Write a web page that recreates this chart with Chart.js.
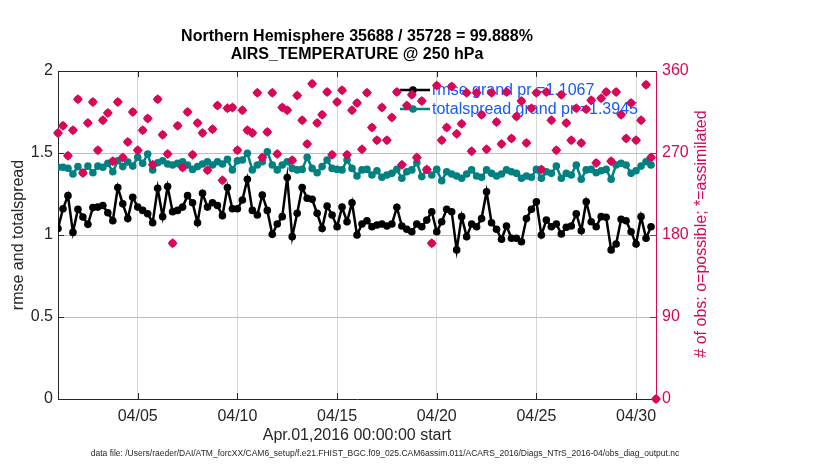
<!DOCTYPE html>
<html><head><meta charset="utf-8">
<script src="https://cdn.jsdelivr.net/npm/chart.js@4.4.0/dist/chart.umd.min.js"></script>
<style>html,body{margin:0;padding:0;background:#fff;overflow:hidden}#wrap{width:830px;height:470px;position:relative}</style>
</head><body><div id="wrap"><canvas id="c" width="830" height="470"></canvas></div>
<script>
const titleLines = ['Northern Hemisphere 35688 / 35728 = 99.888%', 'AIRS_TEMPERATURE @ 250 hPa'];
const xTitle = 'Apr.01,2016 00:00:00 start';
const yLeftTitle = 'rmse and totalspread';
const yRightTitle = '# of obs: o=possible; *=assimilated';
const fileNote = 'data file: /Users/raeder/DAI/ATM_forcXX/CAM6_setup/f.e21.FHIST_BGC.f09_025.CAM6assim.011/ACARS_2016/Diags_NTrS_2016-04/obs_diag_output.nc';
const legendLabels = ['rmse grand pr =1.1067', 'totalspread grand pr =1.3945'];
const tickDays = [4, 9, 14, 19, 24, 29];
const tickLabels = ['04/05', '04/10', '04/15', '04/20', '04/25', '04/30'];
const yGridValues = [0.5, 1, 1.5];
const samplesPerDay = 4;

const rmse = [
1.04,1.16,1.24,1.016,1.157,1.11,1.065,1.167,1.17,1.18,
1.136,1.087,1.29,1.19,1.10,1.23,1.17,1.15,1.13,1.075,
1.285,1.112,1.295,1.142,1.15,1.17,1.24,1.197,1.075,1.254,
1.17,1.197,1.18,1.118,1.29,1.16,1.16,1.213,1.34,1.15,
1.122,1.244,1.15,1.004,1.067,1.112,1.35,0.99,1.132,1.29,
1.224,1.218,1.132,1.04,1.177,1.122,1.05,1.17,1.081,1.197,
1.0,1.067,1.087,1.05,1.061,1.067,1.055,1.067,1.169,1.055,
1.035,1.02,1.067,1.05,1.091,1.142,1.02,1.081,1.157,1.142,
0.909,1.112,0.99,1.067,1.05,1.10,1.264,1.075,1.035,0.974,
1.055,0.98,0.98,0.959,1.10,1.157,1.203,1.0,1.091,1.05,
1.067,1.006,1.047,1.055,1.13,1.026,1.203,1.081,1.05,1.112,
1.108,0.909,0.945,1.096,1.087,1.02,0.945,1.112,0.98,1.05,
null];

const spread = [
1.413,1.413,1.407,1.372,1.417,1.38,1.42,1.38,1.42,1.413,
1.437,1.386,1.453,1.417,1.445,1.42,1.474,1.437,1.494,1.397,
1.441,1.453,1.433,1.427,1.437,1.447,1.427,1.40,1.417,1.433,
1.447,1.427,1.447,1.433,1.461,1.397,1.453,1.457,1.498,1.397,
1.427,1.447,1.508,1.427,1.397,1.427,1.447,1.406,1.397,1.40,
1.474,1.406,1.38,1.417,1.457,1.406,1.40,1.397,1.457,1.406,
1.36,1.397,1.40,1.366,1.392,1.352,1.366,1.376,1.40,1.346,
1.386,1.397,1.441,1.356,1.397,1.366,1.40,1.331,1.386,1.372,
1.36,1.346,1.372,1.397,1.36,1.352,1.397,1.376,1.36,1.372,
1.397,1.386,1.376,1.346,1.36,1.352,1.40,1.346,1.386,1.376,
1.42,1.346,1.376,1.366,1.427,1.34,1.397,1.40,1.38,1.392,
1.40,1.34,1.427,1.437,1.427,1.376,1.392,1.42,1.447,1.427,
null];

const nObs = [
292,300,267,295,329,248,303,326,273,306,
314,261,326,265,282,315,273,295,308,257,
329,290,269,171,300,254,315,268,303,292,
251,296,322,240,319,320,273,317,295,292,
336,265,293,336,269,320,317,262,333,306,
280,346,303,312,337,268,326,339,268,317,
325,274,336,298,284,320,284,309,337,257,
322,334,265,327,252,171,344,284,298,343,
291,302,336,272,336,312,274,336,304,280,
337,286,310,327,281,319,336,252,337,306,
273,334,303,284,319,281,318,328,259,330,
337,261,337,312,286,325,284,306,345,265,
0];

const CRIMSON = 'rgb(216,8,88)';
const TEAL = 'rgb(0,128,128)';
const BLUE = 'rgb(20,90,255)';
const PINK = 'rgb(247,160,195)';
const AXC = '#262626';
const FONT = "'Liberation Sans', Arial, Helvetica, sans-serif";

const times = nObs.map((_, i) => i / samplesPerDay);
const pts = arr => arr.map((v, i) => ({x: times[i], y: v}));

Chart.defaults.font.family = FONT;
Chart.defaults.font.size = 16;
Chart.defaults.color = AXC;

const bgPlugin = {
  id: 'bg',
  beforeDraw(chart) {
    const c = chart.ctx; c.save(); c.fillStyle = '#fff'; c.fillRect(0, 0, chart.width, chart.height); c.restore();
  }
};

const legendPlugin = {
  id: 'customLegend',
  beforeDatasetsDraw(chart) {
    const c = chart.ctx, a = chart.chartArea, yl = chart.scales.y;
    c.save();
    c.strokeStyle = PINK; c.lineWidth = 1;
    c.beginPath();
    yGridValues.forEach(v => {
      const py = Math.round(yl.getPixelForValue(v)) + 0.5;
      c.moveTo(a.left, py); c.lineTo(a.right, py);
    });
    c.stroke();
    const items = [{col: '#000', y: 90, label: legendLabels[0]}, {col: TEAL, y: 109, label: legendLabels[1]}];
    items.forEach(it => {
      c.strokeStyle = it.col; c.lineWidth = 2.5;
      c.beginPath(); c.moveTo(400, it.y); c.lineTo(430, it.y); c.stroke();
      c.fillStyle = it.col; c.beginPath(); c.arc(413, it.y, 3.8, 0, Math.PI * 2); c.fill();
      c.fillStyle = BLUE; c.font = '16px ' + FONT; c.textBaseline = 'middle'; c.textAlign = 'left';
      c.fillText(it.label, 432, it.y + 1);
    });
    c.restore();
  }
};

const framePlugin = {
  id: 'frame',
  afterDraw(chart) {
    const c = chart.ctx, a = chart.chartArea;
    const xs = chart.scales.x, yl = chart.scales.y, yr = chart.scales.y2;
    c.save();
    c.strokeStyle = AXC; c.lineWidth = 1;
    c.beginPath(); c.moveTo(a.left, a.top + 0.5); c.lineTo(a.right, a.top + 0.5); c.stroke();
    const tl = 6;
    c.beginPath();
    tickDays.forEach(d => {
      const px = Math.round(xs.getPixelForValue(d)) + 0.5;
      c.moveTo(px, a.bottom); c.lineTo(px, a.bottom - tl);
      c.moveTo(px, a.top); c.lineTo(px, a.top + tl);
    });
    yGridValues.forEach(v => {
      const py = Math.round(yl.getPixelForValue(v)) + 0.5;
      c.moveTo(a.left, py); c.lineTo(a.left + tl, py);
    });
    c.stroke();
    c.strokeStyle = CRIMSON;
    c.beginPath();
    [90, 180, 270].forEach(v => {
      const py = Math.round(yr.getPixelForValue(v)) + 0.5;
      c.moveTo(a.right, py); c.lineTo(a.right - tl, py);
    });
    c.stroke();
    c.fillStyle = '#000'; c.textAlign = 'center'; c.textBaseline = 'middle';
    c.font = 'bold 16px ' + FONT;
    const cx = (a.left + a.right) / 2;
    c.fillText(titleLines[0], cx, 37);
    c.fillText(titleLines[1], cx, 55);
    c.fillStyle = AXC; c.font = '16px ' + FONT;
    c.fillText(xTitle, cx, 436);
    c.font = '8.5px ' + FONT;
    c.fillText(fileNote, 385, 454);
    c.font = '16px ' + FONT;
    c.save(); c.translate(19, 235); c.rotate(-Math.PI / 2); c.fillText(yLeftTitle, 0, 0); c.restore();
    c.fillStyle = CRIMSON;
    c.save(); c.translate(702, 234); c.rotate(-Math.PI / 2); c.fillText(yRightTitle, 0, 0); c.restore();
    c.restore();
  }
};

new Chart(document.getElementById('c'), {
  type: 'line',
  data: {
    datasets: [
      {label: 'possible', data: pts(nObs), yAxisID: 'y2', showLine: false, order: 0, clip: false,
       pointStyle: 'circle', pointRadius: 3.7, backgroundColor: CRIMSON, borderColor: CRIMSON, pointBorderWidth: 0},
      {label: 'assimilated', data: pts(nObs), yAxisID: 'y2', showLine: false, order: 1, clip: false,
       pointStyle: 'rectRot', pointRadius: 5, backgroundColor: CRIMSON, borderColor: CRIMSON, pointBorderWidth: 0},
      {label: 'rmse', data: pts(rmse), yAxisID: 'y', order: 2, borderColor: '#000', backgroundColor: '#000',
       borderWidth: 2.5, pointRadius: 3.8, pointBorderWidth: 0, tension: 0, spanGaps: false},
      {label: 'totalspread', data: pts(spread), yAxisID: 'y', order: 3, borderColor: TEAL, backgroundColor: TEAL,
       borderWidth: 2.5, pointRadius: 3.8, pointBorderWidth: 0, tension: 0, spanGaps: false}
    ]
  },
  options: {
    responsive: false, animation: false, events: [],
    layout: {padding: {top: 71, left: 0, right: 0, bottom: 0}},
    plugins: {legend: {display: false}, title: {display: false}, tooltip: {enabled: false}},
    scales: {
      x: {type: 'linear', min: 0, max: 30, position: 'bottom',
        afterFit(s) { s.height = 71; },
        afterBuildTicks(s) { s.ticks = tickDays.map(v => ({value: v})); },
        ticks: {autoSkip: false, maxRotation: 0, padding: 8, color: AXC, font: {size: 16},
          callback: v => tickLabels[tickDays.indexOf(v)]},
        grid: {color: '#d6d6d6', drawTicks: false, lineWidth: 1},
        border: {color: AXC, width: 1}},
      y: {position: 'left', min: 0, max: 2,
        afterFit(s) { s.width = 58; },
        ticks: {stepSize: 0.5, padding: 5, color: AXC, font: {size: 16}, callback: v => String(v)},
        grid: {display: false, drawTicks: false},
        border: {display: true, color: AXC, width: 1}},
      y2: {position: 'right', min: 0, max: 360,
        afterFit(s) { s.width = 174; },
        ticks: {stepSize: 90, padding: 6, color: CRIMSON, font: {size: 16}},
        grid: {display: false, drawTicks: false},
        border: {display: true, color: CRIMSON, width: 1}}
    }
  },
  plugins: [bgPlugin, legendPlugin, framePlugin]
});
</script></body></html>
